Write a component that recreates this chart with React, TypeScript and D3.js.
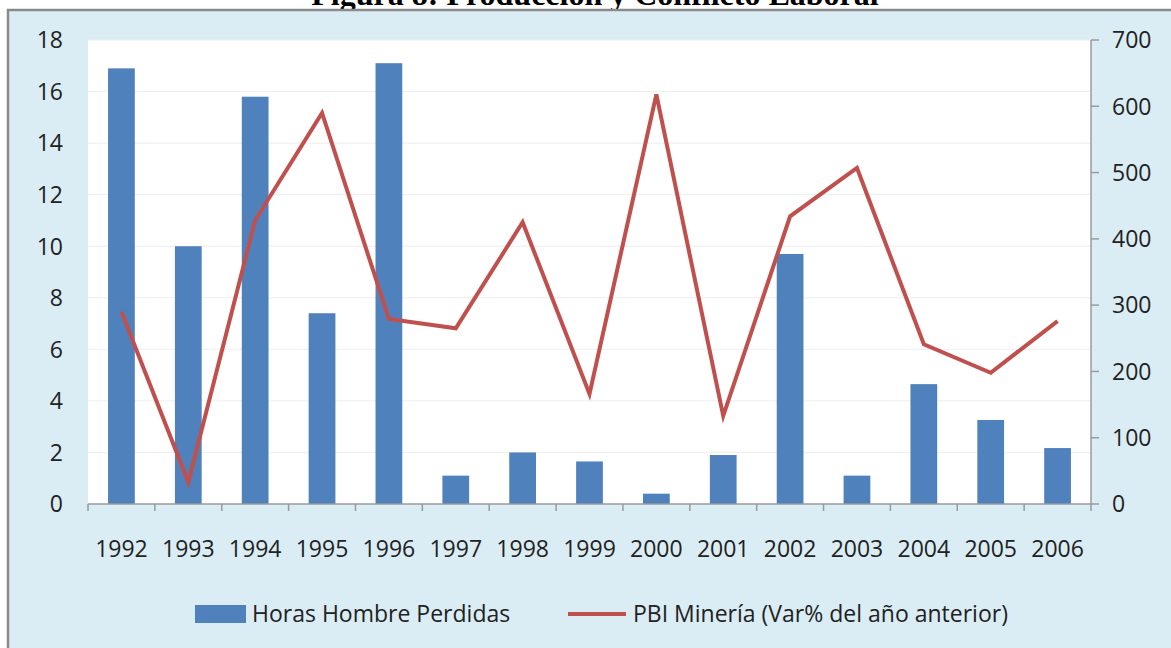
import React from "react";
import * as d3 from "d3";

const years = ["1992","1993","1994","1995","1996","1997","1998","1999","2000","2001","2002","2003","2004","2005","2006"];
const horasPerdidas = [16.9, 10.0, 15.8, 7.4, 17.1, 1.1, 2.0, 1.65, 0.4, 1.9, 9.7, 1.1, 4.65, 3.26, 2.17];
const pbiMineria = [290, 33, 428, 590, 279, 265, 425, 166, 618, 133, 434, 507, 241, 198, 276];
const leftTicks = [0, 2, 4, 6, 8, 10, 12, 14, 16, 18];
const rightTicks = [0, 100, 200, 300, 400, 500, 600, 700];
const seriesNames = ["Horas Hombre Perdidas", "PBI Minería (Var% del año anterior)"];
const title = "Figura 8: Producción y Conflicto Laboral";

const W = 1171, H = 648;
const plot = { left: 88, right: 1091, top: 40, bottom: 504 };
const FONT = "'Open Sans', sans-serif";
const BLUE = "#4f81bd";
const RED = "#c0504d";
const FS = 23;

export default function App() {
  const x = d3.scaleBand<string>().domain(years).range([plot.left, plot.right]).paddingInner(0.6).paddingOuter(0.3);
  const xb = d3.scaleBand<string>().domain(years).range([plot.left, plot.right]);
  const yL = d3.scaleLinear().domain([0, 18]).range([plot.bottom, plot.top]);
  const yR = d3.scaleLinear().domain([0, 700]).range([plot.bottom, plot.top]);
  const line = d3.line<number>()
    .x((_, i) => (xb(years[i]) as number) + xb.bandwidth() / 2)
    .y((d) => yR(d));

  return (
    <svg width={W} height={H} style={{ position: "absolute", left: 0, top: 0 }} fontFamily={FONT}>
      <rect x={0} y={0} width={W} height={H} fill="#ffffff" />
      <text x={595} y={5} textAnchor="middle" fontFamily="'Liberation Serif', serif" fontWeight="bold" fontSize={32} fill="#000">{title}</text>
      <rect x={8} y={10} width={W + 10} height={H + 10} fill="#dbedf4" stroke="#8a8a8a" strokeWidth={2.5} />
      <rect x={plot.left} y={plot.top} width={plot.right - plot.left} height={plot.bottom - plot.top} fill="#ffffff" />
      {leftTicks.slice(1).map((t) => (
        <line key={t} x1={plot.left} x2={plot.right} y1={yL(t)} y2={yL(t)} stroke="#eeeeee" strokeWidth={1} />
      ))}
      {years.map((yr, i) => (
        <rect key={yr} x={x(yr)} y={yL(horasPerdidas[i])} width={x.bandwidth()} height={plot.bottom - yL(horasPerdidas[i])} fill={BLUE} />
      ))}
      <path d={line(pbiMineria) || ""} fill="none" stroke={RED} strokeWidth={4} strokeLinejoin="miter" />
      <line x1={plot.left} x2={plot.right} y1={plot.bottom} y2={plot.bottom} stroke="#9a9a9a" strokeWidth={1.5} />
      {years.concat(["end"]).map((yr, i) => {
        const xx = plot.left + i * xb.bandwidth();
        return <line key={"t" + i} x1={xx} x2={xx} y1={plot.bottom} y2={plot.bottom + 7} stroke="#9a9a9a" strokeWidth={1.5} />;
      })}
      {years.map((yr) => (
        <text key={"l" + yr} x={(xb(yr) as number) + xb.bandwidth() / 2} y={557} textAnchor="middle" fontSize={FS} fill="#222">{yr}</text>
      ))}
      <line x1={plot.right} x2={plot.right} y1={plot.top} y2={plot.bottom} stroke="#9a9a9a" strokeWidth={1.5} />
      {rightTicks.map((t) => (
        <g key={"r" + t}>
          <line x1={plot.right} x2={plot.right + 8} y1={yR(t)} y2={yR(t)} stroke="#9a9a9a" strokeWidth={1.5} />
          <text x={1112} y={yR(t)} dy="0.36em" fontSize={FS} fill="#222">{t}</text>
        </g>
      ))}
      {leftTicks.map((t) => (
        <text key={"ll" + t} x={63} y={yL(t)} dy="0.36em" textAnchor="end" fontSize={FS} fill="#222">{t}</text>
      ))}
      <rect x={195} y={605} width={51} height={18} fill={BLUE} />
      <text x={252} y={614} dy="0.36em" fontSize={FS} fill="#222">{seriesNames[0]}</text>
      <line x1={568} x2={626} y1={614} y2={614} stroke={RED} strokeWidth={4} />
      <text x={633} y={614} dy="0.36em" fontSize={FS} fill="#222">{seriesNames[1]}</text>
    </svg>
  );
}
